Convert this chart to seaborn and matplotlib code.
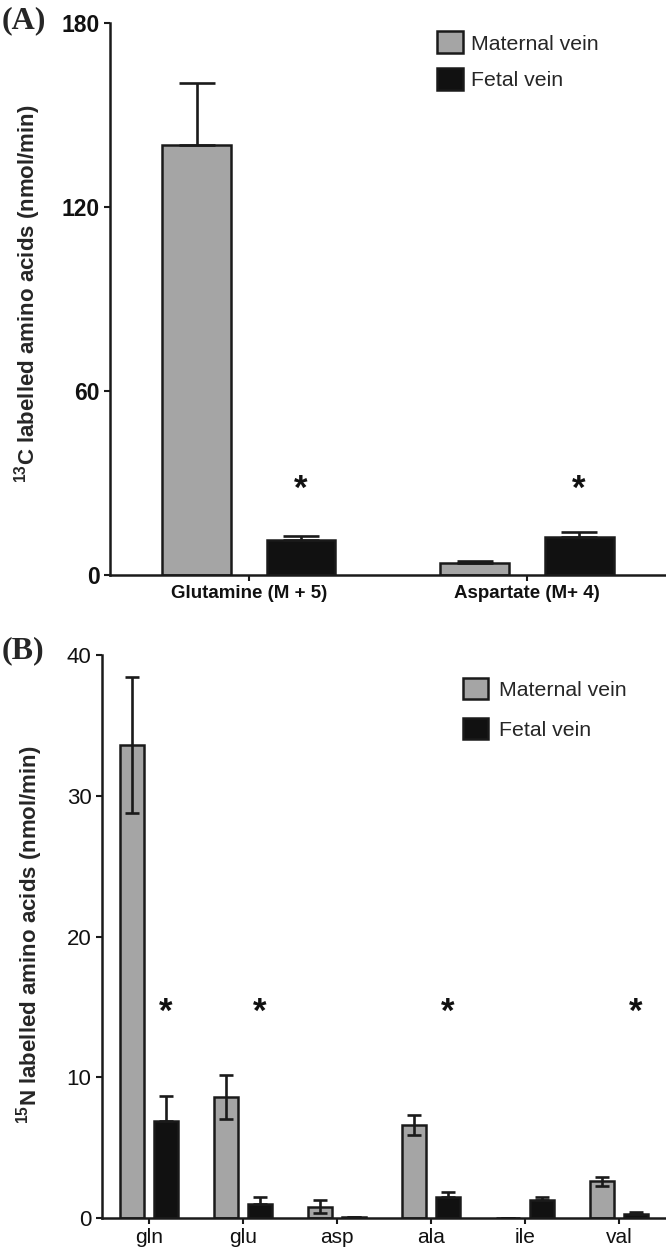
"""
Two-panel bar chart: 13C and 15N labelled amino acids released into
maternal vs fetal vein (mean + SEM), recreated with seaborn.
"""
import matplotlib
matplotlib.use("Agg")
import matplotlib.pyplot as plt
import numpy as np
import pandas as pd
import seaborn as sns
from matplotlib.patches import Patch

# ---- data -------------------------------------------------------------
groups = ["Maternal vein", "Fetal vein"]

# Panel A: 13C labelled
a_labels = ["Glutamine (M + 5)", "Aspartate (M+ 4)"]
a_maternal = [140.2, 4.0]
a_maternal_err = [20.3, 0.6]
a_fetal = [11.3, 12.3]
a_fetal_err = [1.4, 1.6]
a_signif = [True, True]

# Panel B: 15N labelled
b_labels = ["gln", "glu", "asp", "ala", "ile", "val"]
b_maternal = [33.6, 8.6, 0.8, 6.6, 0.0, 2.6]
b_maternal_err = [4.8, 1.55, 0.45, 0.7, 0.0, 0.33]
b_fetal = [6.9, 1.0, 0.05, 1.5, 1.25, 0.28]
b_fetal_err = [1.8, 0.5, 0.0, 0.35, 0.23, 0.15]
b_signif = [True, True, False, True, False, True]

GREY = "#a5a5a5"
BLACK = "#111111"
EDGE = "#1a1a1a"
palette = {groups[0]: GREY, groups[1]: BLACK}


def make_frame(labels, mat, fet):
    return pd.DataFrame({
        "label": labels * 2,
        "group": [groups[0]] * len(labels) + [groups[1]] * len(labels),
        "value": list(mat) + list(fet),
    })


def bar_centers(ax):
    # one container per hue level
    out = []
    for cont in ax.containers:
        out.append([p.get_x() + p.get_width() / 2 for p in cont.patches])
    return out


def draw_panel(ax, labels, mat, mat_err, fet, fet_err, signif, star_y,
               width, gap, capsize, two_sided):
    df = make_frame(labels, mat, fet)
    sns.barplot(data=df, x="label", y="value", hue="group", palette=palette,
                order=labels, hue_order=groups, width=width, gap=gap,
                edgecolor=EDGE, linewidth=1.8, errorbar=None,
                legend=False, ax=ax, saturation=1)
    xm, xf = bar_centers(ax)
    lo_m = mat_err if two_sided else [0] * len(mat_err)
    ax.errorbar(xm, mat, yerr=[lo_m, mat_err], fmt="none", ecolor=EDGE,
                elinewidth=1.9, capsize=capsize, capthick=1.9, zorder=1)
    ax.errorbar(xf, fet, yerr=[[0] * len(fet_err), fet_err], fmt="none",
                ecolor=EDGE, elinewidth=1.9, capsize=capsize,
                capthick=1.9, zorder=1)
    for x, s in zip(xf, signif):
        if s:
            ax.text(x, star_y, "*", ha="center", va="center", fontsize=25,
                    fontweight="bold", color="#111111")
    ax.set_xlim(-0.5, len(labels) - 0.5)
    for s in ["top", "right"]:
        ax.spines[s].set_visible(False)
    for s in ["left", "bottom"]:
        ax.spines[s].set_linewidth(1.8)
        ax.spines[s].set_color(EDGE)
    ax.set_xlabel("")
    ax.tick_params(axis="both", length=4, width=1.5, colors=EDGE,
                   labelcolor="#111111")


sns.set_theme(style="ticks")
plt.rcParams["font.family"] = ["Liberation Sans", "DejaVu Sans"]

fig = plt.figure(figsize=(6.66, 12.49), dpi=100)

# ---- panel A ----------------------------------------------------------
axA = fig.add_axes([0.165, 0.5396, 0.835, 0.442])
draw_panel(axA, a_labels, a_maternal, a_maternal_err, a_fetal, a_fetal_err,
           a_signif, star_y=28, width=0.75, gap=0.34, capsize=13,
           two_sided=False)
axA.set_ylim(0, 180)
axA.set_yticks([0, 60, 120, 180])
axA.set_ylabel(r"$\mathregular{^{13}}$C labelled amino acids (nmol/min)",
               fontsize=16, fontweight="bold")
axA.yaxis.set_label_coords(-0.12, 0.51)
for t in axA.get_yticklabels():
    t.set_fontsize(16.5)
    t.set_fontweight("bold")
for t in axA.get_xticklabels():
    t.set_fontsize(13.5)
    t.set_fontweight("bold")
handlesA = [Patch(facecolor=palette[g], edgecolor=EDGE, linewidth=1.8)
            for g in groups]
axA.legend(handlesA, groups, loc="upper left", bbox_to_anchor=(0.573, 1.0),
           frameon=False, fontsize=15.3, handlelength=1.2, handleheight=1.2,
           labelspacing=0.7, handletextpad=0.4, borderaxespad=0)

# ---- panel B ----------------------------------------------------------
axB = fig.add_axes([0.153, 0.0248, 0.847, 0.4508])
draw_panel(axB, b_labels, b_maternal, b_maternal_err, b_fetal, b_fetal_err,
           b_signif, star_y=14.6, width=0.72, gap=0.31, capsize=5,
           two_sided=True)
axB.set_ylim(0, 40)
axB.set_yticks([0, 10, 20, 30, 40])
axB.set_ylabel(r"$\mathregular{^{15}}$N labelled amino acids (nmol/min)",
               fontsize=16, fontweight="bold")
axB.yaxis.set_label_coords(-0.1, 0.503)
for t in axB.get_yticklabels():
    t.set_fontsize(16)
for t in axB.get_xticklabels():
    t.set_fontsize(15)
handlesB = [Patch(facecolor=palette[g], edgecolor=EDGE, linewidth=1.8)
            for g in groups]
axB.legend(handlesB, groups, loc="upper left", bbox_to_anchor=(0.625, 0.975),
           frameon=False, fontsize=15.3, handlelength=1.2, handleheight=1.2,
           labelspacing=0.85, handletextpad=0.5, borderaxespad=0)

# panel letters
fig.text(0.002, 0.995, "(A)", fontsize=23, fontweight="bold",
         family="Liberation Serif", va="top", ha="left")
fig.text(0.002, 0.491, "(B)", fontsize=23, fontweight="bold",
         family="Liberation Serif", va="top", ha="left")

fig.savefig("out.png", dpi=100)
